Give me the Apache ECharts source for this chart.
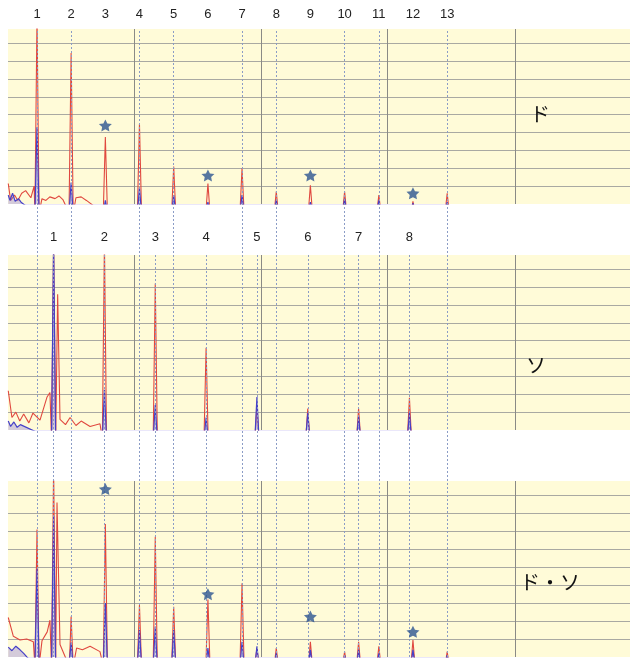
<!DOCTYPE html>
<html>
<head>
<meta charset="utf-8">
<script src="https://cdn.jsdelivr.net/npm/echarts@6/dist/echarts.min.js"></script>
<style>
  html, body { margin: 0; padding: 0; background: #fff; }
  #main { width: 630px; height: 658px; }
</style>
</head>
<body>
<div id="main"></div>
<script>
// harmonic frequencies (Hz) of ド and ソ
var doHz = [262, 523, 785, 1046, 1308, 1570, 1831, 2093, 2354, 2616, 2878, 3139, 3401];
var soHz = [389, 778, 1167, 1556, 1945, 2334, 2723, 3112];
var doLabels = ['1', '2', '3', '4', '5', '6', '7', '8', '9', '10', '11', '12', '13'];
var soLabels = ['1', '2', '3', '4', '5', '6', '7', '8'];
// 1 = dashed line drawn for that ド harmonic (the starred ones share a ソ line)
var doLineOn = [1, 1, 0, 1, 1, 0, 1, 1, 0, 1, 1, 0, 1];
// solid vertical grid lines
var gridLinesHz = [1005, 1975, 2940, 3920];

// panel 1 : ド
var doRed  = [10.5, 8.45, 3.75, 4.5, 2.1, 1.15, 2.0, 0.7, 1.05, 0.7, 0.5, 0.15, 0.6];
var doBlue = [4.3, 1.2, 0.2, 0.9, 0.5, 0.1, 0.5, 0.2, 0.1, 0.3, 0.2, 0.05, 0.1];
var doRedNoise  = [[42, 1.15], [60, 0.2], [90, 0.5], [115, 0.2], [145, 0.6], [175, 0.75], [215, 0.35], [240, 1.0],
                   [300, 0.3], [330, 0.2], [360, 0.4], [400, 0.3], [430, 0.45], [460, 0.25], [560, 0.35], [600, 0.4], [640, 0.2]];
var doBlueNoise = [[42, 0.5], [55, 0.2], [75, 0.6], [95, 0.15], [120, 0.3], [140, 0.1]];
var doStars = [[785, 4.4], [1570, 1.6], [2354, 1.6], [3139, 0.6]];

// panel 2 : ソ
var soRed  = [10.5, 10.5, 8.2, 4.6, 1.3, 1.2, 1.2, 1.8];
var soBlue = [10.5, 2.25, 1.4, 0.7, 1.85, 0.95, 0.75, 0.95];
var soRedNoise  = [[42, 2.2], [70, 0.7], [100, 1.0], [130, 0.5], [160, 0.9], [200, 0.4], [231, 0.95], [285, 0.55],
                   [339, 1.85], [361, 2.1], [420, 7.6], [438, 0.6], [480, 0.3], [515, 0.7], [560, 0.25], [600, 0.5], [668, 0.2], [744, 0.35]];
var soBlueNoise = [[42, 0.5], [60, 0.2], [85, 0.45], [110, 0.15], [135, 0.3]];

// panel 3 : ド・ソ (null = same peak as the other note)
var mixDoRed  = [7.1, 2.25, 7.4, 2.9, 2.8, 3.2, 4.1, 0.5, 0.85, 0.3, 0.6, 0.95, 0.3];
var mixDoBlue = [4.9, 0.8, 3.0, 1.5, 1.5, 0.5, 0.85, 0.2, 0.4, 0.1, 0.2, 0.4, 0.1];
var mixSoRed  = [10.5, null, 6.7, null, 0.5, null, 0.85, null];
var mixSoBlue = [7.85, null, 1.7, null, 0.6, null, 0.4, null];
var mixRedNoise  = [[42, 2.2], [81, 1.15], [132, 0.95], [183, 1.0], [234, 0.85], [300, 0.9], [340, 1.4], [361, 2.05],
                    [415, 8.6], [438, 0.7], [515, 0.6], [565, 0.5], [610, 0.4], [668, 0.6], [744, 0.3]];
var mixBlueNoise = [[42, 0.55], [70, 0.35], [100, 0.6], [132, 0.4], [160, 0.2]];
var mixStars = [[785, 9.35], [1570, 3.5], [2354, 2.25], [3139, 1.4]];

var X_MIN = 40, X_MAX = 4800, Y_MAX = 9.8;
var HALF = 16;  // half width of a peak, Hz

function spectrum(sets, noise) {
  var pts = noise.slice();
  sets.forEach(function (s) {
    s[0].forEach(function (f, i) {
      var h = s[1][i];
      if (h == null) return;
      pts.push([f - HALF, -0.5], [f, h], [f + HALF, -0.5]);
    });
  });
  pts.sort(function (a, b) { return a[0] - b[0]; });
  return pts;
}

var panels = [
  { top: 29, height: 175, red: spectrum([[doHz, doRed]], doRedNoise), blue: spectrum([[doHz, doBlue]], doBlueNoise), stars: doStars, name: 'ド', tx: 530, ty: 104 },
  { top: 255, height: 175, red: spectrum([[soHz, soRed]], soRedNoise), blue: spectrum([[soHz, soBlue]], soBlueNoise), stars: [], name: 'ソ', tx: 526, ty: 355 },
  { top: 481, height: 176, red: spectrum([[doHz, mixDoRed], [soHz, mixSoRed]], mixRedNoise), blue: spectrum([[doHz, mixDoBlue], [soHz, mixSoBlue]], mixBlueNoise), stars: mixStars, name: 'ド・ソ', tx: 520, ty: 572 }
];

var grids = [], xAxes = [], yAxes = [], series = [], graphics = [];
var hiddenX = { type: 'value', min: X_MIN, max: X_MAX, show: false, splitLine: { show: false } };

panels.forEach(function (p, k) {
  grids.push({ left: 8, right: 0, top: p.top, height: p.height, show: true, backgroundColor: '#fffbd8', borderWidth: 0 });
  xAxes.push(Object.assign({ gridIndex: k }, hiddenX));
  yAxes.push({
    gridIndex: k, type: 'value', min: 0, max: Y_MAX, interval: 1,
    axisLine: { show: false }, axisTick: { show: false }, axisLabel: { show: false },
    splitLine: { show: true, showMinLine: false, showMaxLine: false, lineStyle: { color: '#a9a9a2', width: 1 } }
  });
  series.push({
    type: 'line', xAxisIndex: k, yAxisIndex: k, data: p.red, symbol: 'none', z: 2,
    lineStyle: { color: '#e0483f', width: 1.1 },
    markLine: {
      silent: true, symbol: 'none', label: { show: false },
      lineStyle: { color: '#8a8a86', type: 'solid', width: 1 },
      data: gridLinesHz.map(function (f) { return { xAxis: f }; })
    }
  });
  series.push({
    type: 'line', xAxisIndex: k, yAxisIndex: k, data: p.blue, symbol: 'none', z: 3,
    lineStyle: { color: '#4540c8', width: 1.2 },
    areaStyle: { color: 'rgba(120,100,225,0.45)' }
  });
  if (p.stars.length) {
    series.push({
      type: 'scatter', xAxisIndex: k, yAxisIndex: k, data: p.stars, z: 5,
      symbol: 'path://M0,-10 L2.9,-4 L9.5,-3.1 L4.7,1.5 L5.9,8.1 L0,5 L-5.9,8.1 L-4.7,1.5 L-9.5,-3.1 L-2.9,-4 Z',
      symbolSize: [13, 12],
      itemStyle: { color: '#2d5591' }
    });
  }
  graphics.push({
    type: 'text', left: p.tx, top: p.ty, z: 10,
    style: { text: p.name, fontSize: 20, fontFamily: 'Noto Sans CJK JP', fill: '#111' }
  });
});

// overlay grids for the dashed harmonic lines: ド from the top, ソ from panel 2
var dashStyle = { color: '#8b9cc6', type: [2, 2], width: 1 };
var labelStyle = { position: 'end', color: '#222', fontSize: 13, fontFamily: 'Liberation Sans' };
[[29, doHz, doLabels, doLineOn], [255, soHz, soLabels, null]].forEach(function (o, j) {
  var k = 3 + j;
  grids.push({ left: 8, right: 0, top: o[0], bottom: 1 });
  xAxes.push(Object.assign({ gridIndex: k }, hiddenX));
  yAxes.push({ gridIndex: k, type: 'value', min: 0, max: 1, show: false, splitLine: { show: false } });
  series.push({
    type: 'line', xAxisIndex: k, yAxisIndex: k, data: [], z: 4,
    markLine: {
      silent: true, symbol: 'none', lineStyle: dashStyle,
      label: Object.assign({}, labelStyle, { distance: j ? 11 : 8 }),
      data: o[1].map(function (f, i) {
        var item = { xAxis: f, label: { formatter: o[2][i] } };
        if (o[3] && !o[3][i]) item.lineStyle = { color: 'rgba(0,0,0,0)' };
        return item;
      })
    }
  });
});

var chart = echarts.init(document.getElementById('main'), null, { renderer: 'canvas' });
chart.setOption({
  animation: false,
  grid: grids,
  xAxis: xAxes,
  yAxis: yAxes,
  series: series,
  graphic: graphics
});
</script>
</body>
</html>
